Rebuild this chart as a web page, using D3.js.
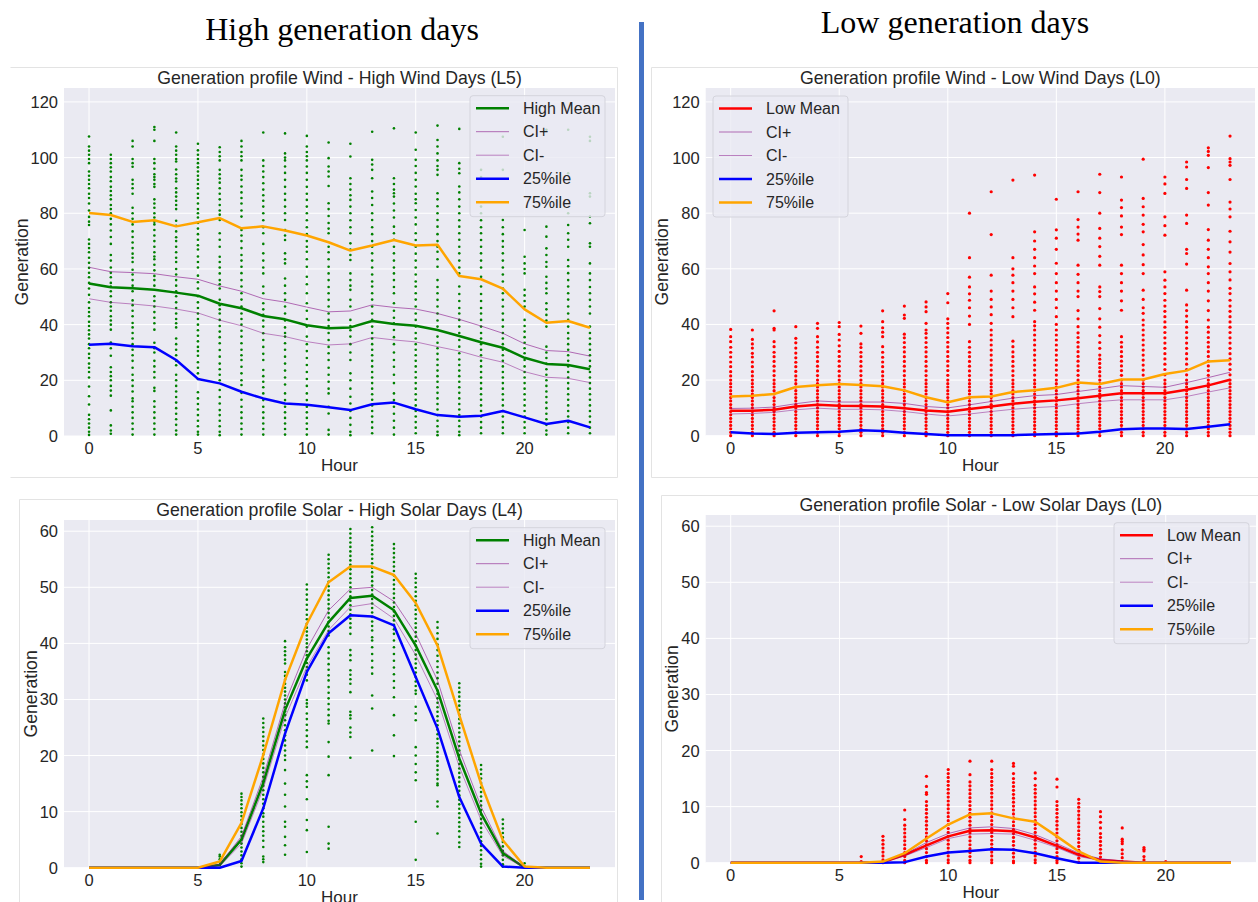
<!DOCTYPE html>
<html>
<head>
<meta charset="utf-8">
<script src="https://cdn.jsdelivr.net/npm/d3@7"></script>
<style>
  body { margin: 0; background: #fff; }
  svg text { font-family: "Liberation Sans", Arial, sans-serif; fill: #262626; }
  .header { font-family: "Liberation Serif", "Times New Roman", serif; font-size: 32px; fill: #000; }
</style>
</head>
<body>
<svg id="chart" width="1258" height="902"></svg>
<script>
// hours on the x axis
const hours = [0,1,2,3,4,5,6,7,8,9,10,11,12,13,14,15,16,17,18,19,20,21,22,23];
const xTicks = [0,5,10,15,20];
const windTicks = [0,20,40,60,80,100,120];
const solarTicks = [0,10,20,30,40,50,60];
const legendLabelsHigh = ['High Mean','CI+','CI-','25%ile','75%ile'];
const legendLabelsLow = ['Low Mean','CI+','CI-','25%ile','75%ile'];

// ---- Wind, high days (L5)
const windHighMean = [54.8,53.4,53.1,52.5,51.5,50.4,47.5,45.9,43.1,41.9,39.8,38.7,39.0,41.3,40.2,39.6,38.1,35.9,33.7,31.7,28.1,25.9,25.5,24.0];
const windHighCIp  = [60.6,59.0,58.7,58.3,57.2,56.3,53.9,52.0,49.3,48.1,46.3,44.6,44.9,47.1,46.2,45.6,44.0,41.9,39.5,36.9,33.1,30.7,30.3,28.7];
const windHighCIm  = [49.3,48.0,47.4,46.7,45.6,44.2,41.6,39.6,36.9,35.7,33.9,32.7,33.1,35.4,34.5,33.8,32.1,30.5,28.3,26.5,23.1,21.1,20.7,19.2];
const windHighQ25  = [32.8,33.1,32.2,31.9,27.3,20.5,18.9,15.9,13.5,11.7,11.2,10.3,9.3,11.4,12.0,9.6,7.5,6.9,7.3,9.0,6.7,4.3,5.5,3.1];
const windHighQ75  = [80.1,79.4,76.9,77.5,75.3,76.8,78.3,74.6,75.3,73.8,72.0,69.6,66.6,68.4,70.4,68.4,68.7,57.5,56.3,52.9,45.5,40.7,41.3,38.9];
const windHighPts = [
  [107.6,104,102.5,101,99.5,98,95,93.5,92,90.5,89,87,85.5,83.5,81,78.7,77,75.8,70.6,69,67.5,66,64,62.2,60.4,58.6,57,55,53,50.7,48,46,44.5,43,41,39.5,38,36.5,35,33,31.5,29.5,28,26,24.5,23,21,17.8,14.3,11.3,7.6,6,4.5,3,1.5,0.4],
  [101,99.5,98,96.5,95,93,91.5,89.5,88,86.5,85,83,81.5,80,78,76,73.8,71.5,69,65,63,60.5,58.6,57,55,53.7,52,50.2,48,46.5,45,43,41.5,40,38.2,33.6,31.5,28.8,24.7,23,21.5,20,18,16.3,14.5,9.2,3.8,2,0.8],
  [106,104,99.5,98,96.7,92,90.5,89,87,82,80,78,76,73.5,71.5,69.5,67.5,65.5,64,62.5,59.7,58,56,54,52,48.7,47,45,43,40.6,39,37,35,33,31,29,27,24.5,22,20,18,16,13.5,12.5,10.5,8.5,6.5,4.5,2.5,0.5],
  [111,110,106,99.5,98,96,94,93,92,90.5,89.5,85,83.5,82,80,78.5,77,76,74,72,70,68,66,64.5,63.5,61.5,59.5,57.5,56,54,50.2,48.5,46.5,44.5,42.5,40.5,38.2,33.5,31.5,30,27,25,23,21,17.3,16.2,12.5,10.5,8.5,6.5,4.5,2.5,0.5],
  [109,104,102.5,101,99.5,98.6,95.7,94,92.5,91.4,89,87.5,86,84.5,83,81.5,77.3,75.5,73.5,71.4,70,68,66,64,62.5,60,58,56,54,52,50.2,48,46,44,42,40.5,39,35,33,31,29,27,25.4,22,20,18,16,14,12,10,8,6,4,2,0.5],
  [105,102.6,101,99.5,98,96.5,95,93.5,92,90.5,89,87,85.5,83.5,81.5,80,78.5,76.5,74.5,72.5,70.5,68.5,67,64.5,62.5,60.5,57.6,55.2,53,50.2,48,46,44,42,40,38,36,34,32,30.5,28.8,26.5,24.5,22.5,20.5,15.7,13.5,11.5,9.5,7.5,5.5,3.5,1.5,0.5],
  [103.7,102,100.5,99,95.6,94,92.5,91,89,87,85,83,81,79.5,77.6,72.8,70.5,68,64.4,62.5,60.5,58.4,56,54.5,53,48.9,47,45.5,44,41.7,39.5,37.5,35.5,33.3,30.9,28.5,26,24,22,20,16.5,14,11.7,9.3,7.5,5.5,3.5,1.5,0.3],
  [106,104,102,100.5,99,95.6,93.5,92,89.6,87.5,85.5,83.5,81,78.8,74,72,70,67.5,65,63,60.8,58.5,56,53.7,51.3,49,46.5,44,42,40,37.8,35.7,33.3,31,29,27.3,24.9,22.5,20,18.3,15.5,13,10.5,8.5,6.5,4.5,2.5,0.5],
  [109,99,97,95,93,90.8,88.5,86.5,84.5,82.4,80,77.5,75,72.8,69,65.6,63,60.5,58.4,53.7,51.3,47.7,45.5,43.5,41.5,39.3,36.9,34.5,32,29.5,27.3,23.7,21.5,19.5,17.5,15.3,12.9,10.5,8.5,6.5,4.5,2.5,0.5],
  [108.7,101.5,100,99,96.8,94.5,92,89.5,87,84.8,82.4,80,77.6,74,72,70.4,65.6,63.5,62,56.6,54,51.3,48.9,46.5,44,41.5,39,37,35.7,33.3,31,28.5,26,23.5,21,18.5,15.3,12.9,10.5,8.5,6.5,4.5,2.5,0.5],
  [107.8,104,102,100.5,99,96.8,94.5,92,89.5,87,84.8,82.4,80,77.5,75,72.5,70,68,66.2,63.5,60.8,57.2,54.5,51.3,47.7,45,42,39.3,35.7,33,30.5,28,25.5,23,20.5,18,15.3,12.9,10.5,8.5,6.5,4.5,2.5,0.5],
  [105.4,99.8,96.8,95,93.2,89.8,83.6,81.5,79,76.5,74.5,72.8,68,66,63.5,60.8,58.4,56,53.5,51.3,48.9,46.5,44,41.7,39.5,37,34.5,32,29.7,27.3,24.5,22,19.5,17,15.3,10.5,8.1,2.2,0.5],
  [105,100.4,92.6,90.5,88.5,86.5,84.8,82.4,80,77.5,75,72.8,69.2,67,65,63.2,58.4,56,54,52.5,48.9,46.5,41.7,39.5,38,35.7,33,30,27.3,22.5,20,17,14.1,11.7,9,6.5,4,1.5,0.3],
  [109.3,99.2,97.5,95.6,92.6,87.8,85.5,83,80,77.6,75,72.5,70,68,65.6,63,60.5,58,55.5,53.7,51.3,49,46.5,44,41.7,39.3,37,35,33,31,29,27,25,23,21,19,17,15,13,11,9,7,5,3,1],
  [110.5,92.6,90.5,88.5,87.2,86,83.5,81,78.5,75.2,72.8,70.5,68,65.6,63,60.5,58.4,56,53.5,51.3,47.7,45,42.5,40.5,38.1,35.5,33,30,27.3,24.9,22,19,15.3,12.9,10.5,8,5.5,3,0.5],
  [109,102.8,99.2,97,94.5,92,89.6,87,85,83.6,81.2,78.5,76,72.8,70.4,68,65.5,63,60.5,58,55.5,53.7,51.3,49,46.5,44,41.7,39.3,37,35,33,31,29,27,25,23,21,19,17,15,13,11,9,7,5,3,1],
  [111.5,106.3,104,101.5,99,97,95.6,93.8,87.2,85,82.5,80,77.6,75.2,72.5,70,68,66.2,63.5,60.8,56,53.5,51.3,48.9,46.5,44,41.5,39.3,35.7,33.5,31.5,29.5,27.5,25.5,23.5,21.5,19.5,17.5,15.5,13.5,11.5,9.5,7.5,5.5,3.5,1.5,0.3],
  [110.3,98,96,94.4,89.6,87.5,85,82.4,80,77.5,75.2,72.8,70.5,68,65.6,63,60.5,58.4,53.7,51,48.5,46,44,41.7,39.3,37,34.5,32.1,29.7,27.5,25.5,23.5,21.5,19.5,17.5,15.5,13.5,11.5,9.5,7.5,5.5,3.5,1.5,0.3],
  [95.6,93,82.4,80,77.5,75,72.8,70.4,68,65.6,63,60.5,57.2,53.7,51,48.5,46,44,41.7,39.3,37,35,33,31,29,27,25,23,21,19,17,15,13,11,9,7,5,3,1],
  [107.5,95.6,77.6,75,72.5,70,68,65.6,63,60.5,58,55.5,53,51.3,48.9,46.5,44,41.7,39.3,37,35,33,31,29,27,25,23,21,19,17,15,13,11,9,7,5,3,1],
  [74,64.4,62,60,58.4,52.5,50.5,48.5,46.5,41.7,39.5,37.5,35.5,33.5,31.5,29.7,27.3,25,23,21,19,17,15,13,11,9,7,5,3,1],
  [110,75.2,71.6,67.4,65,62.5,60.8,57.2,55,53,51.3,47.7,45.5,43.5,41.5,39.3,32.1,30,28,26,24,22,20,18,16,14,12,10,8,6,4,2,0.5],
  [110,94.4,80,75.8,72.8,70.5,68,63.2,61,58.5,56,53.7,51.3,49,46.5,44,41.7,39.3,37,35,33,31,29,27,25,23,21,19,17,15,13,11,9,7,5,3,1],
  [107.5,106,87.2,86,78.8,76.4,69.2,68,62,58.4,56,53.5,51.3,48.9,46.5,44,39.3,37,35,33,31,29,27,25,23,21,19,17,15,13,11,9,7,5,3,1]
];

// ---- Wind, low days (L0)
const windLowMean = [9.0,9.0,9.3,10.5,11.1,10.8,10.7,10.5,9.9,9.1,8.6,9.6,10.5,11.5,12.2,12.7,13.5,14.4,15.3,15.3,15.3,16.5,18.1,20.1];
const windLowCIp  = [9.8,9.9,10.3,11.5,12.5,12.1,12.1,12.1,11.6,10.5,10.0,11.1,12.3,13.5,14.4,14.8,15.9,16.9,18.0,17.7,17.4,19.1,20.9,22.8];
const windLowCIm  = [7.8,8.0,8.4,9.3,9.9,9.5,9.5,9.3,8.7,7.8,7.1,7.8,8.7,9.5,10.1,10.5,11.5,12.3,12.9,12.9,12.9,14.1,15.7,17.2];
const windLowQ25  = [1.2,0.8,0.6,1.1,1.2,1.4,2.0,1.7,1.1,0.6,0.2,0.2,0.2,0.2,0.4,0.6,0.8,1.4,2.3,2.6,2.6,2.4,3.2,4.1];
const windLowQ75  = [14.1,14.4,15.0,17.5,18.1,18.6,18.2,17.8,16.3,13.8,12.0,13.8,14.1,15.7,16.3,17.2,19.1,18.6,20.2,20.2,22.2,23.4,26.7,27.1];
const windLowPts = [
  [0,1.2,2.5,3.7,5,6.2,7.5,8.7,10,11.2,12.5,13.7,15,16.2,17.5,18.7,20,21.5,23,24.8,26.5,28.3,30,31.8,33.8,35.6,38.2],
  [0,1.2,2.5,3.7,5,6.2,7.5,8.7,10,11.2,12.5,13.7,15,16.2,17.5,18.7,20,21.5,23,24.8,26.5,28.3,29.6,31.5,33,34.6,38],
  [0,1.2,2.5,3.7,5,6.2,7.5,8.7,10,11.2,12.5,13.7,15,16.2,17.5,18.7,20,21.6,23.3,25,26.7,28.4,30,32,33.8,38,38.6,44.9],
  [0,1.2,2.5,3.7,5,6.2,7.5,8.7,10,11.2,12.5,13.7,15,16.2,17.5,18.7,20,21.5,23.1,24.8,26.4,28,29.7,31.5,33.4,35,39.2],
  [0,1.2,2.5,3.7,5,6.2,7.5,8.7,10,11.2,12.5,13.7,15,16.2,17.5,18.7,20,21.6,23.3,25,26.7,28.4,30,31.8,33.7,35.6,38.6,40.4],
  [0,1.2,2.5,3.7,5,6.2,7.5,8.7,10,11.2,12.5,13.7,15,16.2,17.5,18.7,20,21.5,23.2,25,26.8,28.5,30.3,32.3,34.4,36.4,39.2,40.7],
  [0,1.2,2.5,3.7,5,6.2,7.5,8.7,10,11.2,12.5,13.7,15,16.2,17.5,18.7,20,21.6,23.3,25,26.7,28.4,30,31.7,33,36.8,39.4],
  [0,1.2,2.5,3.7,5,6.2,7.5,8.7,10,11.2,12.5,13.7,15,16.2,17.5,18.7,20,21.5,23,24.8,26.5,28.2,30,32,35.6,37.2,38.8,41,44.9],
  [0,1.2,2.5,3.7,5,6.2,7.5,8.7,10,11.2,12.5,13.7,15,16.2,17.5,18.7,20,21.6,23.3,25,26.7,28.4,30.1,31.8,33.5,35.2,36.5,42.2,43.4,46.6],
  [0,1.2,2.5,3.7,5,6.2,7.5,8.7,10,11.2,12.5,13.7,15,16.2,17.5,18.7,20,21.6,23.3,25,26.7,28.4,30.1,31.8,33.5,35.2,36.8,38,40.4,44.6,46.3,48.1],
  [0,1.2,2.5,3.7,5,6.2,7.5,8.7,10,11.2,12.5,13.7,15,16.2,17.5,18.7,20,21.7,23.4,25.1,26.8,28.5,30.2,31.9,33.6,35.3,37,38.7,40.4,42,47.8,51.1],
  [0,1.2,2.5,3.7,5,6.2,7.5,8.7,10,11.2,12.5,13.7,15,16.2,17.5,18.7,20,21.6,23.3,25,26.7,28.4,30,31.8,33.8,40,43,46,48.7,51,53.5,57,64,80],
  [0,1.2,2.5,3.7,5,6.2,7.5,8.7,10,11.2,12.5,13.7,15,16.2,17.5,18.7,20,21.8,23.6,25.4,27.2,29,30.8,32.6,34.4,36.2,38,40.4,43.5,46.3,49,52,57.7,72.3,87.7],
  [0,1.2,2.5,3.7,5,6.2,7.5,8.7,10,11.2,12.5,13.7,15,16.2,17.5,18.7,20,21.6,23.3,25,26.7,28.4,30.1,32,34,42.8,46,49,52,55,57.7,60,64,91.9],
  [0,1.2,2.5,3.7,5,6.2,7.5,8.7,10,11.2,12.5,13.7,15,16.2,17.5,18.7,20,21.8,23.6,25.4,27.2,29,30.8,32.6,34.4,36.2,38,39.5,41,45.1,48,51,53.5,58.3,61,64,67,70,73.3,93.7],
  [0,1.2,2.5,3.7,5,6.2,7.5,8.7,10,11.2,12.5,13.7,15,16.2,17.5,18.7,20,21.8,23.6,25.4,27.2,29,30.8,32.6,34.4,36.2,38,40,42.8,46,49,52,55,58.3,62,67,71,74,85],
  [0,1.2,2.5,3.7,5,6.2,7.5,8.7,10,11.2,12.5,13.7,15,16.2,17.5,18.7,20,21.7,23.4,25.1,26.8,28.5,30.2,31.9,33.6,35.3,37,39.2,42,45,50,52,55,58,61.3,70.3,72.5,75,77.7,87.7],
  [0,1.2,2.5,3.7,5,6.2,7.5,8.7,10,11.2,12.5,13.7,15,16.2,17.5,18.7,20,21.5,23,24.5,26,27.5,29,31.4,33.5,36,39,42,45.7,50,51.8,53.5,61.3,64.5,68,71,74.5,80,87.4,94],
  [0,1.2,2.5,3.7,5,6.2,7.5,8.7,10,11.2,12.5,13.7,15,16.2,17.5,18.7,20,21.7,23.4,25.1,26.8,28.5,30.2,31.9,33.6,35.6,45.1,48.5,52,55,58.3,61.3,72.3,75,79,82,84.7,93],
  [0,1.2,2.5,3.7,5,6.2,7.5,8.7,10,11.2,12.5,13.7,15,16.2,17.5,18.7,20,21.8,23.6,25.4,27.2,29,30.8,32.6,34.4,36.2,38,39.8,41.6,44,46,49,52.3,58.3,61.5,65,68.7,73.3,76,79.3,82.3,85.3,99.4],
  [0,1.2,2.5,3.7,5,6.2,7.5,8.7,10,11.2,12.5,13.7,15,16.2,17.5,18.7,20,21.9,23.8,25.7,27.6,29.5,31.4,33.3,35.2,37.1,39,40.9,42.8,44.7,46.6,48.7,51.1,53.5,55.9,58.9,72.1,75.5,78.7,87.1,90.5,93],
  [0,1.2,2.5,3.7,5,6.2,7.5,8.7,10,11.2,12.5,13.7,15,16.2,17.5,18.7,20,21.9,23.8,25.7,27.6,29.5,31.4,33.3,35.2,37.1,39,41,43,45,47,52.3,61.7,65.5,67,76.3,79.3,88.9,92.1,96.6,98.4],
  [0,1.2,2.5,3.7,5,6.2,7.5,8.7,10,11.2,12.5,13.7,15,16.2,17.5,18.7,20,21.7,23.4,25.1,26.8,28.5,30.2,31.9,33.6,35.3,37.2,39,41.6,45,48.5,52,55,58.3,60.7,64,67,70.3,74.1,82.9,87.4,96.4,100.8,102.2,103.5],
  [0,1.2,2.5,3.7,5,6.2,7.5,8.7,10,11.2,12.5,13.7,15,16.2,17.5,18.7,20,21.9,23.8,25.7,27.6,29.5,31.4,33.3,35.2,37.1,39,40.9,42.8,44.7,46.6,48.7,51.1,53,56,58.9,61.9,66,69.7,73.5,78.7,81.5,84,92.1,97.2,98.4,99.6,107.7]
];

// ---- Solar, high days (L4)
const solarHighMean = [0,0,0,0,0,0,0.5,5.0,15.1,28.1,37.3,43.8,48.1,48.5,45.9,39.6,31.6,19.5,9.7,2.6,0,0,0,0];
const solarHighCIp  = [0,0,0,0,0,0,0.6,5.6,16.2,29.4,39.0,45.9,49.7,50.0,47.5,41.7,33.4,21.0,10.9,3.0,0,0,0,0];
const solarHighCIm  = [0,0,0,0,0,0,0.3,4.3,14.1,26.8,35.8,42.4,46.5,47.1,44.4,37.9,29.9,18.0,8.5,2.1,0,0,0,0];
const solarHighQ25  = [0,0,0,0,0,0,0,1.2,10.6,23.9,34.9,41.8,45.0,44.8,43.2,34.0,24.8,12.6,4.3,0.2,0,0,0,0];
const solarHighQ75  = [0,0,0,0,0,0,1.1,8.0,20.1,33.5,43.5,50.9,53.7,53.7,52.2,47.2,39.6,27.2,15.0,4.9,0.2,0,0,0];
const solarHighPts = [
  [],[],[],[],[],[],
  [0.5,1.0,1.5,2.0,2.3],
  [0.2,0.8,1.5,2.2,2.9,3.6,4.3,5,5.7,6.4,7.1,7.8,8.5,9.2,9.9,10.6,11.3,12,12.6,13.2],
  [26.6,25.8,25,24.2,23.4,22.6,21.8,21,20.2,19.4,18.6,17.8,17,16.2,15.4,14.6,13.8,13,12.2,11.4,10.6,9.7,9.1,8.2,7.3,6.5,5.7,4.8,3.7,2,1.5,1],
  [40.4,39.3,38.6,37.9,37.1,36.4,34.9,34.2,33.5,32.8,32.1,31.4,30.7,30,29.3,28.6,27.9,27.2,26.3,25.4,24.5,23.6,22.7,21.8,20.9,20,19.2,17.4,15,13,10.9,8.2,7.3,5.5,4,2.3],
  [50.5,49.6,48.7,47.8,46.9,46,45.1,44.3,43.5,42.8,42.1,41.4,40.7,40,39.3,38.6,37.9,37.2,36.5,35.8,35.1,34.4,33.4,29.9,29.3,28.7,27.5,26.5,25.5,24.5,23.5,22.5,21.5,16.5,15.4,14.4,12.2,8.5,6.7,2.8],
  [55.8,55,54.2,53.4,52.6,51.8,51,50.2,49.4,48.6,47.8,47,46.2,45.4,44.6,43.8,43,42.2,41.4,39.3,38.3,37.3,36.3,35.3,34.3,33.4,32.2,31.2,30.2,29.2,28.2,27.2,26.2,25.7,22.4,19.8,16.5,7.3,4.3,3.4],
  [60.4,59.6,58.8,58,57.2,56.4,55.6,54.8,54,53.2,52.4,51.6,50.8,50,49.2,48.4,47.6,46.8,46,45.2,44.4,43.6,42.8,41.7,38.8,37.9,37,35.2,34.4,33.6,32.8,31.3,27.8,27.2,26.6,25,24.1,23.3,19.6],
  [60.7,59.9,59.1,58.3,57.5,56.7,55.9,55.1,54.3,53.5,52.7,51.9,51.1,50.3,49.5,48.7,47.9,47.1,46.3,45.5,44.7,43.9,43.1,42.3,41.1,40.5,39.3,38.1,36.9,35.7,34.6,30.7,28.4,20.9],
  [57.7,56.9,56.1,55.3,54.5,53.7,52.9,52.1,51.3,50.5,49.7,48.9,48.1,47.3,46.5,45.7,44.9,44.1,43.3,42.5,41.7,40.5,39.3,38.1,36.9,35.7,34.5,33.3,32.1,30.4,27.2,23.6,19.9],
  [52.4,51.6,50.8,50,49.2,48.4,47.6,46.8,46,45.2,44.4,43.6,42.8,42,41.2,40.4,39.6,38.8,38,37.2,36.4,35.6,34.8,34,33.2,32.4,31.6,31,28.7,27.5,26.3,21.5,20,18.5,17,15.6,8.2,1.4],
  [43.8,42.8,41.8,40.8,39.8,38.8,37.8,36.8,35.8,34.8,33.8,32.8,31.6,31,30.2,29.4,28.6,27.8,27,26.2,25.4,24.6,23.8,23,22.2,21.4,20.6,19.8,19,18.2,17.4,16.6,15.8,15,14.7,11.8,10.9,6.1],
  [32.9,32.1,31.3,30.5,29.7,28.9,28.1,27.3,26.5,25.7,24.9,24.1,23.3,22.5,21.7,20.9,20.1,19.3,18.5,17.7,16.9,16.1,15.3,14.5,13.7,12.9,12.1,11.3,10.5,9.7,8.9,8.1,7.3,6.5,5.5,4.5,3.7],
  [18.3,17.5,16.7,15.9,15.1,14.3,13.5,12.7,11.9,11.1,10.3,9.5,8.7,7.9,7.1,6.3,5.5,4.7,3.9,3.1,2.3,1.5,0.7,0.2],
  [8.6,7.8,7,6.2,5.4,4.6,3.8,3,2.2,1.4,0.6,0.2],
  [0.8,0.2],
  [],[],[]
];

// ---- Solar, low days (L0)
const solarLowMean = [0,0,0,0,0,0,0,0.1,1.4,3.1,4.7,5.7,5.8,5.6,4.5,3.0,1.4,0.5,0.2,0,0,0,0,0];
const solarLowCIp  = [0,0,0,0,0,0,0,0.1,1.5,3.6,5.2,6.2,6.4,6.1,5.0,3.4,1.7,0.7,0.3,0,0,0,0,0];
const solarLowCIm  = [0,0,0,0,0,0,0,0.1,1.2,2.7,4.3,5.1,5.2,5.1,4.0,2.7,1.1,0.4,0.1,0,0,0,0,0];
const solarLowQ25  = [0,0,0,0,0,0,0,0,0.1,1.1,1.8,2.1,2.4,2.3,1.7,0.8,0,0,0,0,0,0,0,0];
const solarLowQ75  = [0,0,0,0,0,0,0,0.2,1.7,4.3,6.8,8.6,8.8,7.9,7.3,4.7,2.0,0.2,0,0,0,0,0,0];
const solarLowPts = [
  [],[],[],[],[],[],
  [1.1,0.2],
  [4.7,4.0,3.3,2.6,1.9,1.2,0.5,0],
  [9.4,7.7,6.7,6,5.3,4.6,3.9,3.2,2.5,1.8,1.1,0.4,0],
  [15.4,13.6,12.5,12.2,10.9,10.2,9.5,8.8,8.1,7.4,6.7,6,5.3,4.6,3.9,3.2,2.5,1.8,1.1,0.4,0],
  [16.6,15.9,15.2,14.5,13.8,13.1,12.4,11.7,11,10.3,9.6,8.9,8.2,7.5,6.8,6.1,5.4,4.7,4,3.3,2.6,1.9,1.2,0.5,0],
  [18.1,15.7,14.4,13.7,13,12.3,11.6,10.9,10.2,9.5,8.8,8.1,7.4,6.7,6,5.3,4.6,3.9,3.2,2.5,1.8,1.1,0.4,0],
  [18.1,16.6,15.9,15.2,14.5,13.8,13.1,12.4,11.7,11,10.3,9.6,8.9,8.2,7.5,6.8,6.1,5.4,4.7,4,3.3,2.6,1.9,1.2,0.5,0],
  [17.7,17.2,15.9,15,14.3,13.6,12.9,12.2,11.5,10.8,10.1,9.4,8.7,8,7.3,6.6,5.9,5.2,4.5,3.8,3.1,2.4,1.7,1,0.3,0],
  [16,15,13.8,13.1,12.4,11.7,11,10.3,9.6,8.9,8.2,7.5,6.8,6.1,5.4,4.7,4,3.3,2.6,1.9,1.2,0.5,0],
  [14.9,13.5,10.9,10.2,9.5,8.8,8.1,7.4,6.7,6,5.3,4.6,3.9,3.2,2.5,1.8,1.1,0.4,0],
  [11.3,10.6,9.9,9.2,8.5,7.8,7.1,6.4,5.7,5,4.3,3.6,2.9,2.2,1.5,0.8,0.1],
  [9.1,8.2,7.2,6.2,5.2,4.5,3.8,3.1,2.4,1.7,1,0.3],
  [6.2,4.2,3.8,3.4,2.3,1.6,0.9,0.2],
  [2.7,2.4,2.1,1.1,0.5],
  [0.2],
  [],[],[]
];

const svg = d3.select('#chart');

// headers and the blue divider
svg.append('text').attr('class', 'header').attr('x', 342).attr('y', 40)
  .attr('text-anchor', 'middle').text('High generation days');
svg.append('text').attr('class', 'header').attr('x', 955).attr('y', 33)
  .attr('text-anchor', 'middle').text('Low generation days');
svg.append('rect').attr('x', 639).attr('y', 22).attr('width', 5).attr('height', 878)
  .attr('fill', '#4472c4');

// frame: [x, y, w, h, draw left edge?]
const panels = [
  {frame: [10.5, 67.5, 607, 410, false], left: 64, top: 88, right: 615, bottom: 436, yMax: 125, yTicks: windTicks,
   title: 'Generation profile Wind - High Wind Days (L5)', color: 'green', r: 1.3, labels: legendLabelsHigh,
   pts: windHighPts, mean: windHighMean, cip: windHighCIp, cim: windHighCIm, q25: windHighQ25, q75: windHighQ75,
   legend: [470, 95.7], yLabelX: 28},
  {frame: [651.5, 67.5, 620, 410, true], left: 705.7, top: 88, right: 1255, bottom: 435.7, yMax: 125, yTicks: windTicks,
   title: 'Generation profile Wind - Low Wind Days (L0)', color: 'red', r: 1.6, labels: legendLabelsLow,
   pts: windLowPts, mean: windLowMean, cip: windLowCIp, cim: windLowCIm, q25: windLowQ25, q75: windLowQ75,
   legend: [713, 96], yLabelX: 668},
  {frame: [19.5, 499.5, 598, 420, true], left: 64, top: 520, right: 615, bottom: 867.7, yMax: 62, yTicks: solarTicks,
   title: 'Generation profile Solar - High Solar Days (L4)', color: 'green', r: 1.3, labels: legendLabelsHigh,
   pts: solarHighPts, mean: solarHighMean, cip: solarHighCIp, cim: solarHighCIm, q25: solarHighQ25, q75: solarHighQ75,
   legend: [470, 527.7], yLabelX: 37},
  {frame: [661.5, 495.5, 620, 420, true], left: 705.7, top: 515, right: 1256, bottom: 862.7, yMax: 62, yTicks: solarTicks,
   title: 'Generation profile Solar - Low Solar Days (L0)', color: 'red', r: 1.6, labels: legendLabelsLow,
   pts: solarLowPts, mean: solarLowMean, cip: solarLowCIp, cim: solarLowCIm, q25: solarLowQ25, q75: solarLowQ75,
   legend: [1114, 522.7], yLabelX: 678}
];

function drawPanel(p) {
  const g = svg.append('g');

  const [fx, fy, fw, fh, leftEdge] = p.frame;
  const framePath = leftEdge
    ? `M${fx},${fy + fh}V${fy}H${fx + fw}V${fy + fh}H${fx}`
    : `M${fx},${fy}H${fx + fw}V${fy + fh}H${fx}`;
  g.append('path').attr('d', framePath)
    .attr('fill', 'none').attr('stroke', '#e3e3e3');

  const x = d3.scaleLinear().domain([-1.15, 24.15]).range([p.left, p.right]);
  const y = d3.scaleLinear().domain([0, p.yMax]).range([p.bottom, p.top]);

  g.append('rect')
    .attr('x', p.left).attr('y', p.top)
    .attr('width', p.right - p.left).attr('height', p.bottom - p.top)
    .attr('fill', '#eaeaf2');

  // white grid
  g.selectAll('.gx').data(xTicks).join('line')
    .attr('x1', d => x(d)).attr('x2', d => x(d))
    .attr('y1', p.top).attr('y2', p.bottom)
    .attr('stroke', '#fff').attr('stroke-width', 1);
  g.selectAll('.gy').data(p.yTicks).join('line')
    .attr('y1', d => y(d)).attr('y2', d => y(d))
    .attr('x1', p.left).attr('x2', p.right)
    .attr('stroke', '#fff').attr('stroke-width', 1);

  // tick labels
  g.selectAll('.tx').data(xTicks).join('text')
    .attr('x', d => x(d)).attr('y', p.bottom + 18)
    .attr('text-anchor', 'middle').style('font-size', '16.5px')
    .text(d => d);
  g.selectAll('.ty').data(p.yTicks).join('text')
    .attr('x', p.left - 6).attr('y', d => y(d))
    .attr('text-anchor', 'end').attr('dominant-baseline', 'central')
    .style('font-size', '16.5px')
    .text(d => d);

  // scatter of the individual days
  const dots = [];
  p.pts.forEach((vals, h) => vals.forEach(v => dots.push({h: h, v: v})));
  g.append('g').selectAll('circle').data(dots).join('circle')
    .attr('cx', d => x(d.h)).attr('cy', d => y(d.v))
    .attr('r', p.r).attr('fill', p.color);

  const line = d3.line().x((d, i) => x(hours[i])).y(d => y(d));
  const series = [
    {vals: p.mean, stroke: p.color, w: 2.5, op: 1},
    {vals: p.cip, stroke: 'purple', w: 1, op: 0.55},
    {vals: p.cim, stroke: 'purple', w: 1, op: 0.45},
    {vals: p.q25, stroke: 'blue', w: 2.5, op: 1},
    {vals: p.q75, stroke: 'orange', w: 2.5, op: 1}
  ];
  series.forEach(s => {
    g.append('path').datum(s.vals)
      .attr('d', line).attr('fill', 'none')
      .attr('stroke', s.stroke).attr('stroke-width', s.w)
      .attr('stroke-opacity', s.op).attr('stroke-linejoin', 'round');
  });

  // titles
  g.append('text')
    .attr('x', (p.left + p.right) / 2).attr('y', p.top - 4)
    .attr('text-anchor', 'middle').style('font-size', '17.7px')
    .text(p.title);
  g.append('text')
    .attr('x', (p.left + p.right) / 2).attr('y', p.bottom + 35)
    .attr('text-anchor', 'middle').style('font-size', '17px')
    .text('Hour');
  g.append('text')
    .attr('transform', `translate(${p.yLabelX},${(p.top + p.bottom) / 2}) rotate(-90)`)
    .attr('text-anchor', 'middle').style('font-size', '17.6px')
    .text('Generation');

  // legend
  const lg = g.append('g').attr('transform', `translate(${p.legend[0]},${p.legend[1]})`);
  lg.append('rect')
    .attr('width', 135).attr('height', 121).attr('rx', 3)
    .attr('fill', '#eaeaf2').attr('fill-opacity', 0.8)
    .attr('stroke', '#d4d4dc');
  const items = lg.selectAll('.item').data(series).join('g')
    .attr('transform', (d, i) => `translate(0,${12.5 + i * 23.5})`);
  items.append('line')
    .attr('x1', 6).attr('x2', 39).attr('y1', 0).attr('y2', 0)
    .attr('stroke', d => d.stroke).attr('stroke-width', d => d.w)
    .attr('stroke-opacity', d => d.op);
  items.append('text')
    .attr('x', 53).attr('y', 0).attr('dominant-baseline', 'central')
    .style('font-size', '16px')
    .text((d, i) => p.labels[i]);
}

panels.forEach(drawPanel);
</script>
</body>
</html>
